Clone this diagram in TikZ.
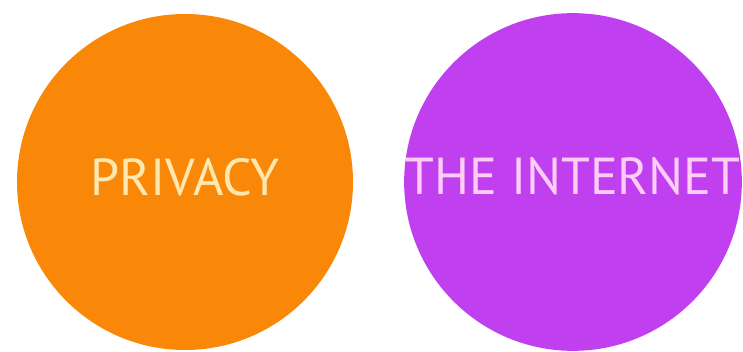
\documentclass[tikz,border=0pt]{standalone}
\usepackage{fontspec}
\setmainfont{PT Sans}
\usepackage{tikz}

\definecolor{privorange}{RGB}{250,136,8}
\definecolor{privtext}{RGB}{255,232,175}
\definecolor{netpurple}{RGB}{192,64,240}
\definecolor{nettext}{RGB}{255,205,245}

\tikzset{blob/.style={circle,minimum size=336pt,inner sep=0pt,text depth=11pt,
    font=\fontsize{52}{60}\selectfont}}

\begin{document}
\begin{tikzpicture}[x=1pt,y=-1pt]
            \useasboundingbox (0,0) rectangle (743,352);
            \foreach \x/\fc/\tc/\n/\t in {185/privorange/privtext/privacy/PRIVACY,573/netpurple/nettext/internet/THE INTERNET} {
            \node[blob,fill=\fc,text=\tc] (\n) at (\x,182) {\t};}
        \end{tikzpicture}
\end{document}
